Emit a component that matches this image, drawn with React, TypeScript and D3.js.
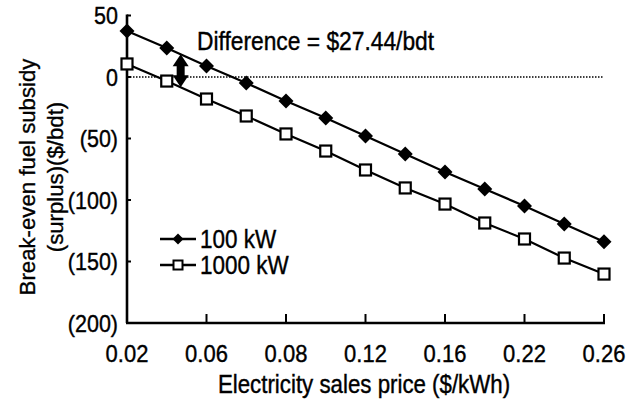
import React from "react";
import * as d3 from "d3";

const tickLabels = ["0.02", "0.06", "0.08", "0.12", "0.16", "0.22", "0.26"];
const series100kW = [37.4, 23.6, 8.9, -4.9, -19.5, -33.3, -48, -62.6, -77.2, -91, -104.9, -119.5, -134];
const series1000kW = [10.6, -3.3, -17.9, -31.7, -46.3, -60.2, -75.6, -90.2, -103.3, -118.7, -131.7, -147.2, -160.2];
const yTicks = [50, 0, -50, -100, -150, -200];
const annotation = "Difference = $27.44/bdt";

const W = 632, H = 402;
const left = 127, right = 604, top = 15.5, bottom = 323;
const FONT = "Liberation Sans, Arial, sans-serif";
const SY = 1.12;

function T({ x, y, size, anchor = "start", rotate = 0, dy = "0", children }: any) {
  const tr = rotate
    ? `translate(${x},${y}) rotate(${rotate})`
    : `translate(${x},${y}) scale(1,${SY})`;
  return (
    <text transform={tr} textAnchor={anchor} fontSize={size} dy={dy} stroke="#000" strokeWidth={0.35}>
      {children}
    </text>
  );
}

export default function App() {
  const n = series100kW.length;
  const x = d3.scaleLinear().domain([0, n - 1]).range([left, right]);
  const y = d3.scaleLinear().domain([-200, 50]).range([bottom, top]);
  const line = d3.line<number>().x((_, i) => x(i)).y((d) => y(d));
  const fmt = (v: number) => (v < 0 ? `(${-v})` : `${v}`);
  const diamond = (cx: number, cy: number, r: number) =>
    `M${cx},${cy - r}L${cx + r},${cy}L${cx},${cy + r}L${cx - r},${cy}Z`;

  const ai = 1.35;
  const interp = (arr: number[], t: number) => {
    const i = Math.floor(t);
    return arr[i] + (arr[i + 1] - arr[i]) * (t - i);
  };
  const arrowX = x(ai);
  const aTop = y(interp(series100kW, ai));
  const aBot = y(interp(series1000kW, ai));
  return (
    <svg width={W} height={H} style={{ position: "absolute", left: 0, top: 0, background: "#fff" }} fontFamily={FONT}>
      <rect x={0} y={0} width={W} height={H} fill="#fff" />
      {/* zero dotted line */}
      <line x1={left} x2={right} y1={y(0)} y2={y(0)} stroke="#000" strokeWidth={1.3} strokeDasharray="1.5,1.5" />
      {/* axes */}
      <line x1={left} x2={left} y1={top - 1} y2={bottom} stroke="#000" strokeWidth={2.6} />
      <line x1={left - 1} x2={right + 1} y1={bottom} y2={bottom} stroke="#000" strokeWidth={2.6} />
      {yTicks.map((t) => (
        <g key={t}>
          <line x1={left} x2={left + 4} y1={y(t)} y2={y(t)} stroke="#000" strokeWidth={2} />
          <T x={118} y={y(t)} dy="0.36em" anchor="end" size={21.5}>{fmt(t)}</T>
        </g>
      ))}
      {tickLabels.map((lab, k) => (
        <g key={lab}>
          <line x1={x(k * 2)} x2={x(k * 2)} y1={bottom} y2={bottom - 9} stroke="#000" strokeWidth={2} />
          <T x={x(k * 2)} y={362} anchor="middle" size={22}>{lab}</T>
        </g>
      ))}
      {/* series lines */}
      <path d={line(series100kW) || ""} fill="none" stroke="#000" strokeWidth={2.2} />
      <path d={line(series1000kW) || ""} fill="none" stroke="#000" strokeWidth={2.2} />
      {series100kW.map((v, i) => (
        <path key={"d" + i} d={diamond(x(i), y(v), 7.5)} fill="#000" />
      ))}
      {series1000kW.map((v, i) => (
        <rect key={"s" + i} x={x(i) - 5.5} y={y(v) - 5.5} width={11} height={11} fill="#fff" stroke="#000" strokeWidth={2.2} />
      ))}
      {/* double arrow */}
      <g fill="#000">
        <rect x={arrowX - 4} y={aTop + 8} width={8} height={aBot - aTop - 16} />
        <path d={`M${arrowX},${aTop}L${arrowX + 8},${aTop + 12}L${arrowX - 8},${aTop + 12}Z`} />
        <path d={`M${arrowX},${aBot}L${arrowX + 8},${aBot - 12}L${arrowX - 8},${aBot - 12}Z`} />
      </g>
      <T x={197} y={50} size={22.8}>{annotation}</T>
      {/* legend */}
      <g>
        <line x1={160} x2={196} y1={239} y2={239} stroke="#000" strokeWidth={2.5} />
        <path d={diamond(178, 239, 5.5)} fill="#000" />
        <T x={200} y={239} dy="0.36em" size={22.5}>100 kW</T>
        <line x1={160} x2={196} y1={265} y2={265} stroke="#000" strokeWidth={2.5} />
        <rect x={173.5} y={260.5} width={9} height={9} fill="#fff" stroke="#000" strokeWidth={2} />
        <T x={200} y={265} dy="0.36em" size={22.5}>1000 kW</T>
      </g>
      {/* axis titles */}
      <T x={364} y={393} anchor="middle" size={22.3}>Electricity sales price ($/kWh)</T>
      <T x={35} y={177} rotate={-90} anchor="middle" size={22.2}>Break-even fuel subsidy</T>
      <T x={63} y={177} rotate={-90} anchor="middle" size={22.2}>(surplus)($/bdt)</T>
    </svg>
  );
}
